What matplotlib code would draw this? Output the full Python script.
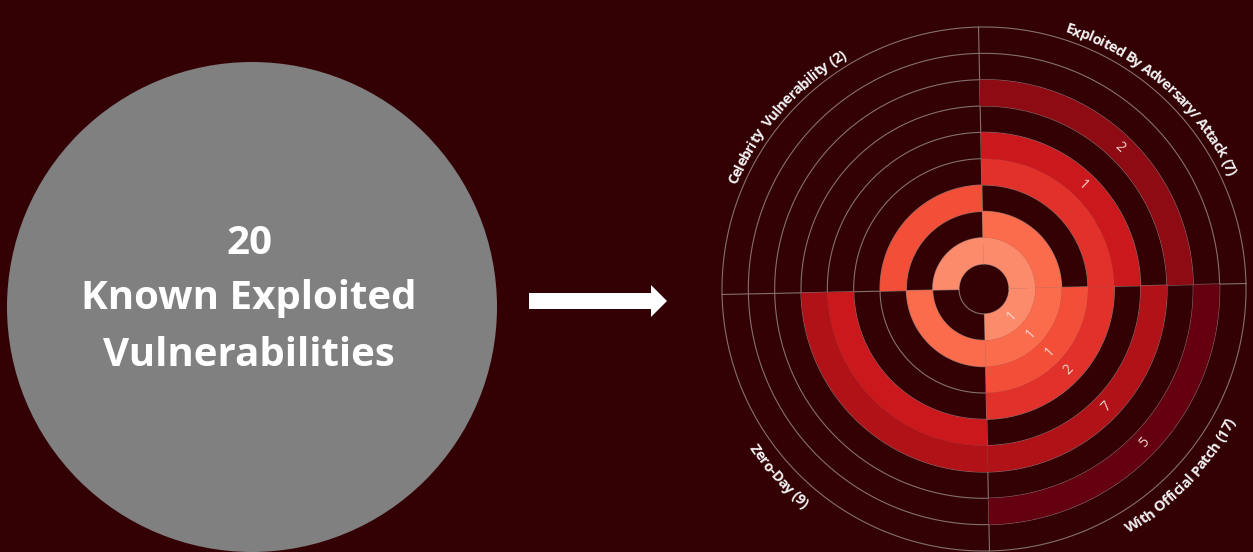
import numpy as np
import matplotlib
matplotlib.use('Agg')
import matplotlib.pyplot as plt
from matplotlib import font_manager as fm
from matplotlib.ft2font import FT2Font
from matplotlib.patches import Circle, FancyArrow

W, H = 1253, 552
FONT = 'Open Sans'

total_known = 20
headline = ['Known Exploited', 'Vulnerabilities']

# quadrant names and totals (counter-clockwise from 0 deg)
quadrants = ['Exploited By Adversary/ Attack', 'Celebrity  Vulnerability', 'Zero-Day', 'With Official Patch']
totals = [7, 2, 9, 17]

# counts per ring, innermost ring first (0 = empty ring)
exploited = [1, 1, 0, 2, 1, 0, 2, 0, 0]
celebrity = [1, 0, 1, 0, 0, 0, 0, 0, 0]
zero_day = [0, 3, 0, 0, 3, 3, 0, 0, 0]
patch = [1, 1, 1, 2, 0, 7, 0, 5, 0]
# rings whose count is printed on the chart
exploited_shown = [4, 6]
patch_shown = [0, 1, 2, 3, 5, 7]

ring_colors = ['#fc8b6c', '#fb6c4c', '#f34e38', '#e2302a', '#cb181d',
               '#b01217', '#8e0b13', '#650010', '#4a000a']
bg = '#330004'
grid_col = '#85706f'

fig = plt.figure(figsize=(W / 100, H / 100), dpi=100, facecolor=bg)

# flat layer in pixel units for the circle and arrow
ax = fig.add_axes([0, 0, 1, 1])
ax.set_xlim(0, W)
ax.set_ylim(H, 0)
ax.set_axis_off()
ax.add_patch(Circle((252, 307), 245, color='#808080', lw=0))
ax.text(249, 244, str(total_known), ha='center', va='center', color='white',
        fontsize=29, fontweight='bold', family=FONT)
for i, line in enumerate(headline):
    ax.text(249, 299 + i * 57, line, ha='center', va='center', color='white',
            fontsize=29, fontweight='bold', family=FONT)
ax.add_patch(FancyArrow(529, 301, 138, 0, width=16, head_width=32, head_length=16,
                        length_includes_head=True, color='white', lw=0))

# polar chart
cx, cy, R = 984, 289, 262
R0 = 25
RW = (R - R0) / 9
off = 1.2
pax = fig.add_axes([(cx - R) / W, (H - cy - R) / H, 2 * R / W, 2 * R / H], projection='polar')
pax.set_theta_offset(np.deg2rad(off))
pax.set_ylim(0, R)
pax.set_axis_off()

t = np.linspace(0, 2 * np.pi, 500)
for k in range(10):
    pax.plot(t, np.full_like(t, R0 + k * RW), color=grid_col, lw=0.8, zorder=1, clip_on=False)
for a in np.arange(4) * np.pi / 2:
    pax.plot([a, a], [R0, R], color=grid_col, lw=0.8, zorder=1, clip_on=False)

for q, vals in enumerate([exploited, celebrity, zero_day, patch]):
    for i, v in enumerate(vals):
        if v:
            pax.bar(q * np.pi / 2, RW, width=np.pi / 2, bottom=R0 + i * RW, align='edge',
                    color=ring_colors[i], lw=0, zorder=2)

lab_col = '#f6d8d2'
for i in exploited_shown:
    pax.text(np.pi / 4, R0 + (i + 0.5) * RW, str(exploited[i]), rotation=45 + off - 90,
             rotation_mode='anchor', ha='center', va='center', color=lab_col, fontsize=10, family=FONT)
for i in patch_shown:
    pax.text(-np.pi / 4, R0 + (i + 0.5) * RW, str(patch[i]), rotation=-45 + off + 90,
             rotation_mode='anchor', ha='center', va='center', color=lab_col, fontsize=10, family=FONT)

font_path = fm.findfont(fm.FontProperties(family=FONT, weight='bold'))


def arc_text(s, center_deg, r_base, clockwise, size, track=0.92):
    f = FT2Font(font_path)
    f.set_size(size, 100)
    adv, ink = [], []
    for c in s:
        g = f.load_char(ord(c))
        adv.append(g.linearHoriAdvance / 65536 * track)
        ink.append((g.horiBearingX + g.width / 2) / 64 * track if c != ' ' else 0)
    adv = np.array(adv)
    origin = np.cumsum(adv) - adv
    pos = origin + np.array(ink)
    r_mid = r_base + (5 if clockwise else -5)
    span = adv.sum() / r_mid
    c = np.deg2rad(center_deg - off)
    for ch, p in zip(s, pos):
        if ch == ' ':
            continue
        if clockwise:
            th = c + span / 2 - p / r_mid
            rot = np.rad2deg(th) + off - 90
        else:
            th = c - span / 2 + p / r_mid
            rot = np.rad2deg(th) + off + 90
        pax.text(th, r_base, ch, rotation=rot, rotation_mode='anchor', ha='center', va='baseline',
                 color='#f2f2f2', fontsize=size, fontweight='bold', family=FONT, clip_on=False)


centers = [48.7, 139, 222.3, 316.5]
for q, name in enumerate(quadrants):
    label = f'{name} ({totals[q]})'
    if q < 2:
        arc_text(label, centers[q], 269, True, 10.5)
    else:
        arc_text(label, centers[q], 284, False, 10.5)

fig.savefig('out.png', dpi=100, facecolor=bg)
